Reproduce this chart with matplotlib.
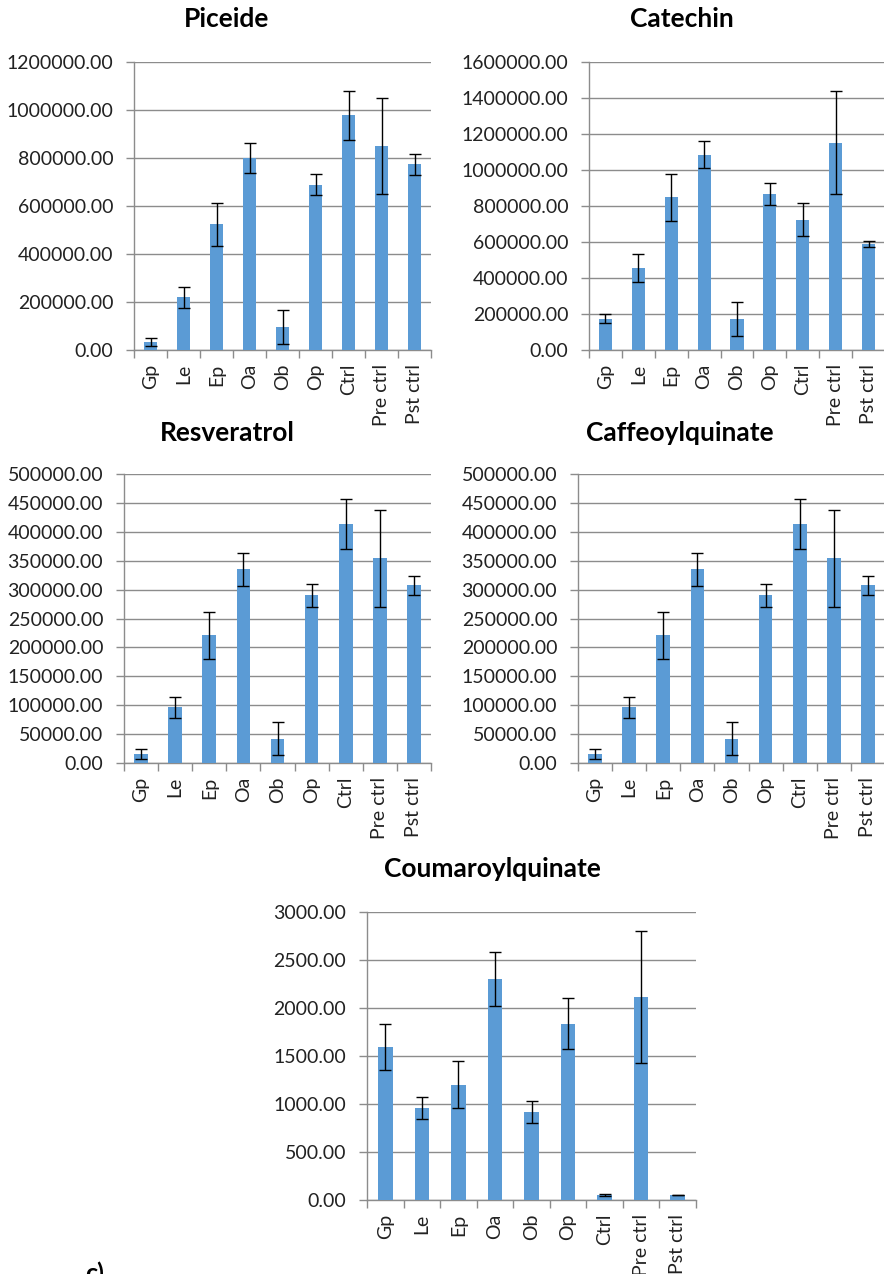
import numpy as np
import matplotlib.pyplot as plt
from matplotlib.ticker import FixedLocator, FormatStrFormatter

plt.rcParams['font.family'] = ['Lato', 'DejaVu Sans']

# ---------------------------------------
# Data: mean peak areas and error bars
# ---------------------------------------
groups = ['Gp', 'Le', 'Ep', 'Oa', 'Ob', 'Op', 'Ctrl', 'Pre ctrl', 'Pst ctrl']

piceide = [33000, 220000, 523000, 800000, 97000, 688000, 978000, 849000, 773000]
piceide_err = [18000, 44000, 91000, 62000, 70000, 44000, 101000, 200000, 45000]

catechin = [174000, 455000, 848000, 1086000, 174000, 869000, 725000, 1152000, 590000]
catechin_err = [26000, 78000, 130000, 76000, 94000, 61000, 89000, 287000, 16000]

resveratrol = [15600, 96400, 220600, 334900, 42100, 289800, 414000, 354500, 307200]
resveratrol_err = [9000, 18500, 40000, 29000, 29000, 20000, 43000, 84000, 17000]

caffeoylquinate = [15600, 96400, 220600, 334900, 42100, 289800, 414000, 354500, 307200]
caffeoylquinate_err = [9000, 18500, 40000, 29000, 29000, 20000, 43000, 84000, 17000]

coumaroylquinate = [1592, 961, 1203, 2303, 919, 1838, 55, 2112, 52]
coumaroylquinate_err = [240, 115, 240, 280, 115, 270, 10, 690, 3]

BAR = '#5B9BD5'
GRID = '#8C8C8C'

W, H = 884, 1274
fig = plt.figure(figsize=(W / 100, H / 100), dpi=100)


def px_axes(left, top, right, bottom):
    return fig.add_axes([left / W, 1 - bottom / H, (right - left) / W, (bottom - top) / H])


def bar_panel(box, title, values, errors, ymax, step, title_xy):
    ax = px_axes(*box)
    x = np.arange(len(groups))
    ax.bar(x, values, width=0.4, color=BAR, zorder=3)
    ax.errorbar(x, values, yerr=errors, fmt='none', ecolor='black',
                elinewidth=1, capsize=4.5, capthick=1, zorder=4)
    ax.set_xlim(-0.5, len(groups) - 0.5)
    ax.set_ylim(0, ymax)
    ax.set_yticks(np.arange(0, ymax + step / 2, step))
    ax.yaxis.set_major_formatter(FormatStrFormatter('%.2f'))
    ax.yaxis.grid(True, color=GRID, linewidth=1, zorder=0)
    ax.set_xticks(x)
    ax.set_xticklabels(groups, rotation=90)
    ax.xaxis.set_minor_locator(FixedLocator(np.arange(-0.5, len(groups), 1.0)))
    ax.tick_params(axis='x', which='major', length=0, pad=10, labelsize=14, colors='#222222')
    ax.tick_params(axis='x', which='minor', length=6, width=1, color=GRID)
    ax.tick_params(axis='y', length=6, width=1, color=GRID, pad=9, labelsize=14,
                   labelcolor='#222222')
    for side in ('top', 'right'):
        ax.spines[side].set_visible(False)
    for side in ('left', 'bottom'):
        ax.spines[side].set_color(GRID)
        ax.spines[side].set_linewidth(1)
    fig.text(title_xy[0] / W, 1 - title_xy[1] / H, title, ha='center', va='center',
             fontsize=19, fontweight='bold')
    return ax


bar_panel((134, 62, 431, 350), 'Piceide', piceide, piceide_err, 1200000, 200000, (227, 19))
bar_panel((589, 62, 885, 350), 'Catechin', catechin, catechin_err, 1600000, 200000, (682, 19))
bar_panel((124, 474, 431, 763), 'Resveratrol', resveratrol, resveratrol_err, 500000, 50000, (227, 433))
bar_panel((578, 474, 885, 763), 'Caffeoylquinate', caffeoylquinate, caffeoylquinate_err,
          500000, 50000, (680, 433))
bar_panel((367, 912, 696, 1200), 'Coumaroylquinate', coumaroylquinate, coumaroylquinate_err,
          3000, 500, (492, 869))

# panel letter at the lower left, running off the page
fig.text(85 / W, 1 - 1281 / H, 'c)', ha='left', va='baseline', fontsize=18, fontweight='bold')

fig.savefig('out.png', dpi=100)
